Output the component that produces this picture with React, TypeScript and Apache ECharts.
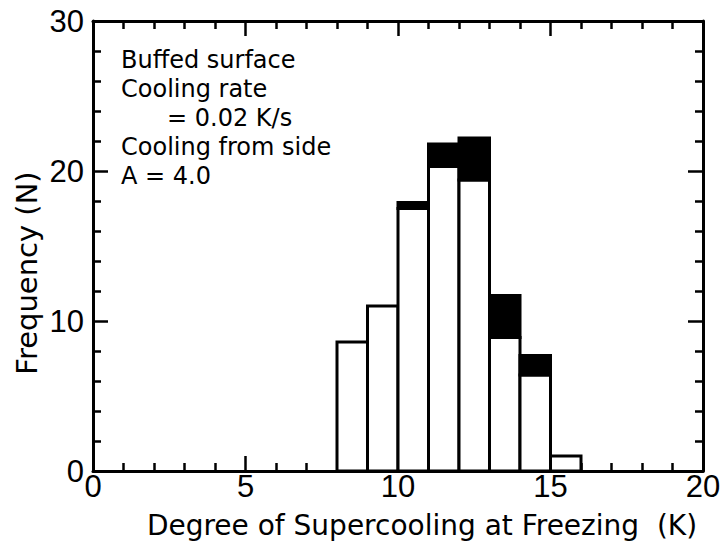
import React, { useEffect, useRef } from "react";
import * as echarts from "echarts";

const binStart = [8, 9, 10, 11, 12, 13, 14, 15];
const binEnd = [9, 10, 11, 12, 13, 14, 15, 16];
const whiteCounts = [8.6, 11.0, 17.5, 20.3, 19.4, 8.9, 6.4, 1.0];
const totalCounts = [8.6, 11.0, 17.9, 21.8, 22.2, 11.7, 7.7, 1.0];
const annotationLines = [
  "Buffed surface",
  "Cooling rate",
  "= 0.02 K/s",
  "Cooling from side",
  "A = 4.0",
];
const annotationIndent = [0, 0, 1, 0, 0];
const xTitle = "Degree of Supercooling at Freezing  (K)";
const yTitle = "Frequency (N)";

const FONT = "DejaVu Sans";
const TICK_FONT = "Liberation Sans";

export default function App() {
  const ref = useRef<HTMLDivElement>(null);
  useEffect(() => {
    if (!ref.current) return;
    const chart = echarts.init(ref.current, null, { renderer: "svg" });
    const data = binStart.map((s, i) => [s, binEnd[i], whiteCounts[i], totalCounts[i]]);
    const axisCommon = {
      axisLine: { show: true, onZero: false, lineStyle: { color: "#000", width: 3 } },
      axisTick: { show: true, inside: true, length: 15, lineStyle: { color: "#000", width: 2.5 } },
      minorTick: { show: true, splitNumber: 5, length: 8, lineStyle: { color: "#000", width: 2.5 } },
      splitLine: { show: false },
    };
    chart.setOption({
      animation: false,
      backgroundColor: "#fff",
      grid: { left: 93, right: 22, top: 21, bottom: 78 },
      xAxis: [
        {
          type: "value",
          min: 0,
          max: 20,
          interval: 5,
          position: "bottom",
          ...axisCommon,
          axisLabel: { color: "#000", fontFamily: TICK_FONT, fontSize: 31, margin: 0 },
        },
        {
          type: "value",
          min: 0,
          max: 20,
          interval: 5,
          position: "top",
          ...axisCommon,
          axisLabel: { show: false },
        },
      ],
      yAxis: [
        {
          type: "value",
          min: 0,
          max: 30,
          interval: 10,
          position: "left",
          ...axisCommon,
          axisLabel: { color: "#000", fontFamily: TICK_FONT, fontSize: 31, margin: 9 },
        },
        {
          type: "value",
          min: 0,
          max: 30,
          interval: 10,
          position: "right",
          ...axisCommon,
          axisLabel: { show: false },
        },
      ],
      series: [
        {
          type: "custom",
          xAxisIndex: 0,
          yAxisIndex: 0,
          data,
          renderItem: (params: any, api: any) => {
            const x0 = api.value(0);
            const x1 = api.value(1);
            const w = api.value(2);
            const t = api.value(3);
            const p0 = api.coord([x0, 0]);
            const pw = api.coord([x1, w]);
            const pt = api.coord([x1, t]);
            const children: any[] = [
              {
                type: "rect",
                shape: { x: p0[0], y: pw[1], width: pw[0] - p0[0], height: p0[1] - pw[1] },
                style: { fill: "#fff", stroke: "#000", lineWidth: 3 },
              },
            ];
            if (t > w) {
              children.push({
                type: "rect",
                shape: { x: p0[0], y: pt[1], width: pt[0] - p0[0], height: pw[1] - pt[1] },
                style: { fill: "#000", stroke: "#000", lineWidth: 3 },
              });
            }
            return { type: "group", children };
          },
        },
      ],
      graphic: [
        ...annotationLines.map((line, i) => ({
          type: "text",
          x: 121 + annotationIndent[i] * 46,
          y: 48 + i * 29,
          style: {
            text: line,
            fill: "#000",
            font: `24px "${FONT}"`,
            textVerticalAlign: "top",
          },
        })),
        {
          type: "text",
          x: 422,
          y: 525,
          style: {
            text: xTitle,
            fill: "#000",
            font: `28px "${FONT}"`,
            align: "center",
            verticalAlign: "middle",
          },
        },
        {
          type: "text",
          x: 27,
          y: 273,
          rotation: Math.PI / 2,
          style: {
            text: yTitle,
            fill: "#000",
            font: `29px "${FONT}"`,
            align: "center",
            verticalAlign: "middle",
          },
        },
      ],
    });
    return () => chart.dispose();
  }, []);
  return (
    <div
      ref={ref}
      style={{ position: "absolute", left: 0, top: 0, width: 725, height: 549 }}
    />
  );
}
